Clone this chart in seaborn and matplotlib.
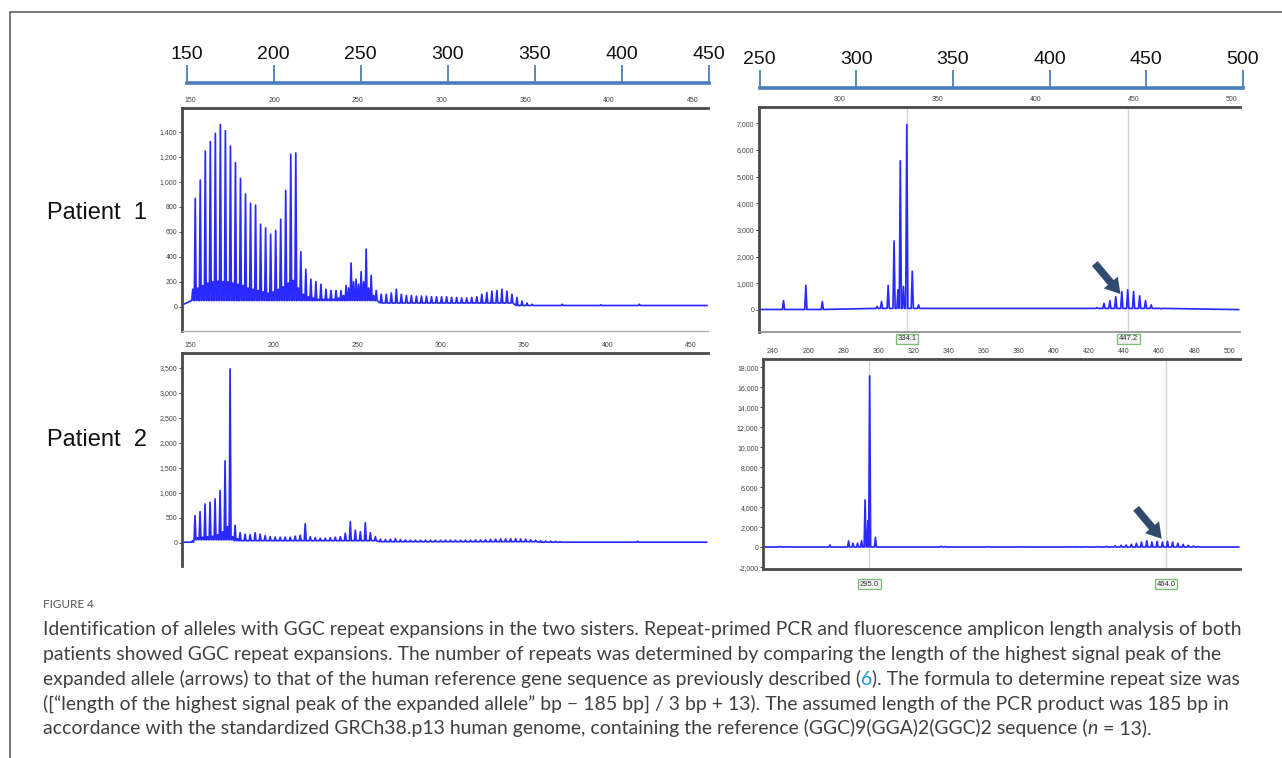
import numpy as np
import pandas as pd
import seaborn as sns
import matplotlib
matplotlib.use('Agg')
import matplotlib.pyplot as plt
from matplotlib.lines import Line2D
from matplotlib.ticker import FuncFormatter
import matplotlib.transforms as mtransforms

# ---------------- data ----------------
# Patient 1, 150-450 bp window: repeat peaks and the small peaks in between
p1_full_pos = [153, 156, 159, 162, 165, 168, 171, 174, 177, 180, 183, 186, 189, 192, 195,
               198, 201, 204, 207, 210, 213, 216, 219, 222, 225, 228, 231, 234, 237, 240,
               243, 246, 249, 252, 255, 258, 261, 264, 267, 270, 273, 276, 279, 282, 285,
               288, 291, 294, 297, 300, 303, 306, 309, 312, 315, 318, 321, 324, 327, 330,
               333, 336, 339, 342, 345, 348, 351, 354, 372, 395, 418]
p1_full_hgt = [867, 1013, 1245, 1320, 1387, 1459, 1408, 1285, 1152, 1027, 901, 827, 813, 660, 630,
               580, 610, 700, 930, 1220, 1230, 440, 300, 220, 200, 180, 140, 130, 130, 130,
               170, 350, 220, 280, 460, 250, 130, 100, 100, 110, 140, 100, 90, 90, 85,
               85, 85, 80, 80, 80, 80, 75, 75, 70, 70, 75, 80, 100, 115, 125,
               130, 140, 125, 100, 75, 45, 30, 20, 20, 15, 20]
p1_full_minor_pos = [151.5, 154.5, 157.5, 160.5, 163.5, 166.5, 169.5, 172.5, 175.5, 178.5,
                     181.5, 184.5, 187.5, 190.5, 193.5, 196.5, 199.5, 202.5, 205.5, 208.5,
                     211.5, 214.5, 217.5, 220.5, 223.5, 226.5, 229.5, 232.5, 235.5, 238.5,
                     241.5, 244.5, 247.5, 250.5, 253.5, 256.5, 259.5]
p1_full_minor_hgt = [140, 150, 170, 190, 200, 205, 200, 200, 190, 180,
                     170, 150, 140, 130, 120, 110, 120, 140, 160, 190,
                     210, 150, 100, 80, 70, 60, 60, 60, 60, 70,
                     90, 150, 200, 180, 200, 150, 90]
p1_full_floor_pos = [140, 151, 262, 345]
p1_full_floor_val = [15, 50, 30, 10]

# Patient 1, 250-500 bp window
p1_zoom_pos = [271.2, 282.6, 291.0, 319.0, 321.2, 324.6, 327.6, 329.6, 330.8, 332.4, 334.1,
               336.9, 340.1, 428.0, 431.0, 434.7, 437.7, 440.7, 443.8, 446.8, 449.8, 452.9,
               455.9, 458.8, 461.0, 464.0]
p1_zoom_hgt = [350, 920, 315, 130, 315, 920, 2585, 760, 5590, 880, 6950,
               1450, 190, 60, 90, 250, 350, 500, 690, 760, 690, 530,
               350, 190, 60, 40]
p1_zoom_floor_pos = [250, 318, 342, 425, 465]
p1_zoom_floor_val = [20, 60, 15, 60, 15]
p1_marks = [334.1, 447.2]

# Patient 2, 150-450 bp window
p2_full_pos = [153, 156, 159, 162, 165, 168, 171, 174, 177, 180, 183, 186, 189, 192, 195,
               198, 201, 204, 207, 210, 213, 216, 219, 222, 225, 228, 231, 234, 237, 240,
               243, 246, 249, 252, 255, 258, 261, 264, 267, 270, 273, 276, 279, 282, 285,
               288, 291, 294, 297, 300, 303, 306, 309, 312, 315, 318, 321, 324, 327, 330,
               333, 336, 339, 342, 345, 348, 351, 354, 357, 360, 363, 366, 369, 372, 418]
p2_full_hgt = [542, 622, 776, 810, 877, 1044, 1640, 3480, 350, 200, 170, 160, 200, 170, 140,
               120, 110, 110, 110, 110, 130, 150, 380, 120, 100, 90, 90, 100, 110, 120,
               190, 420, 250, 220, 400, 200, 120, 70, 60, 70, 80, 60, 55, 50, 50,
               50, 50, 50, 50, 50, 50, 50, 50, 50, 50, 50, 55, 55, 60, 65,
               70, 75, 75, 80, 80, 75, 70, 60, 50, 40, 35, 30, 25, 20, 30]
p2_full_minor_pos = [151.5, 154.5, 157.5, 160.5, 163.5, 166.5, 169.5, 172.5, 175.5, 178.5]
p2_full_minor_hgt = [40, 100, 110, 120, 130, 160, 220, 320, 120, 80]
p2_full_floor_pos = [140, 152, 176, 262, 360]
p2_full_floor_val = [10, 60, 40, 20, 10]

# Patient 2, 240-500 bp window
p2_zoom_pos = [244, 247, 250, 272.4, 283.1, 285.6, 288.2, 290.5, 292.5, 294.1, 295.1, 298.4,
               336, 338, 362.5, 383, 409, 413, 418, 425, 430, 435, 438.3, 441.2, 444.2,
               447.1, 450.0, 453.0, 455.9, 458.9, 461.9, 464.8, 467.7, 470.7, 473.7, 476.6,
               479.6, 482.6]
p2_zoom_hgt = [80, 60, 50, 230, 630, 400, 400, 660, 4730, 2670, 17130, 1000,
               100, 80, 60, 60, 60, 60, 70, 80, 100, 150, 200, 230, 300,
               400, 530, 660, 530, 600, 530, 600, 530, 400, 300, 200,
               130, 70]
p2_zoom_floor_pos = [230]
p2_zoom_floor_val = [30]
p2_marks = [295.0, 464.0]

# axis ticks
full_xticks = [150, 200, 250, 300, 350, 400, 450]
p1_zoom_xticks = [300, 350, 400, 450, 500]
p2_zoom_xticks = [240, 260, 280, 300, 320, 340, 360, 380, 400, 420, 440, 460, 480, 500]
p1_full_yticks = [0, 200, 400, 600, 800, 1000, 1200, 1400]
p1_zoom_yticks = [0, 1000, 2000, 3000, 4000, 5000, 6000, 7000]
p2_full_yticks = [0, 500, 1000, 1500, 2000, 2500, 3000, 3500]
p2_zoom_yticks = [-2000, 0, 2000, 4000, 6000, 8000, 10000, 12000, 14000, 16000, 18000]
bar_left_ticks = [150, 200, 250, 300, 350, 400, 450]
bar_right_ticks = [250, 300, 350, 400, 450, 500]

caption_title = "FIGURE 4"
caption_lines = [
    [("Identification of alleles with GGC repeat expansions in the two sisters. Repeat-primed PCR and fluorescence amplicon length analysis of both", {})],
    [("patients showed GGC repeat expansions. The number of repeats was determined by comparing the length of the highest signal peak of the", {})],
    [("expanded allele (arrows) to that of the human reference gene sequence as previously described (", {}),
     ("6", {"color": "#1d9ad6"}),
     ("). The formula to determine repeat size was", {})],
    [("([\u201clength of the highest signal peak of the expanded allele\u201d bp \u2212 185 bp] / 3 bp + 13). The assumed length of the PCR product was 185 bp in", {})],
    [("accordance with the standardized GRCh38.p13 human genome, containing the reference (GGC)9(GGA)2(GGC)2 sequence (", {}),
     ("n", {"style": "italic"}),
     (" = 13).", {})],
]

# ---------------- style ----------------
sns.set_style("white")
plt.rcParams['font.family'] = ['Liberation Sans', 'DejaVu Sans']
W, H = 1282, 758
fig = plt.figure(figsize=(W / 100, H / 100), dpi=100)
fig.patch.set_facecolor('white')

TRACE = '#2a2aff'
SPINE = '#4a4a4a'
BAR = '#4a7ebb'


def px_axes(l, t, r, b):
    return fig.add_axes([l / W, 1 - b / H, (r - l) / W, (b - t) / H])


def build_trace(pos, hgt, floor_pos, floor_val, lo, hi, half=0.55):
    rows = [(lo, floor_val[0])]
    for p, h in sorted(zip(pos, hgt)):
        f = floor_val[max(np.searchsorted(floor_pos, p, side='right') - 1, 0)]
        rows += [(p - half, f), (p, h), (p + half, f)]
    rows.append((hi, floor_val[-1]))
    return pd.DataFrame(rows, columns=['bp', 'rfu'])


def panel(box, xlim, ylim, xticks, yticks, df, bottom=None):
    ax = px_axes(*box)
    sns.lineplot(data=df, x='bp', y='rfu', sort=False, estimator=None,
                 color=TRACE, lw=1.25, ax=ax)
    ax.set_xlim(*xlim)
    ax.set_ylim(*ylim)
    ax.set_xlabel('')
    ax.set_ylabel('')
    ax.xaxis.tick_top()
    ax.set_xticks(xticks)
    ax.set_yticks(yticks)
    ax.yaxis.set_major_formatter(FuncFormatter(lambda v, _: f"{int(v):,}"))
    ax.tick_params(axis='x', length=0, labelsize=5, colors='#444444', pad=3)
    ax.tick_params(axis='y', direction='out', length=2, width=0.7, labelsize=5,
                   colors='#444444', pad=1.5, left=True)
    for s in ['top', 'left']:
        ax.spines[s].set_color(SPINE)
        ax.spines[s].set_linewidth(2)
    ax.spines['right'].set_visible(False)
    if bottom is None:
        ax.spines['bottom'].set_visible(False)
    else:
        ax.spines['bottom'].set_color(bottom[0])
        ax.spines['bottom'].set_linewidth(bottom[1])
    ax.grid(False)
    return ax


def mark_lines(ax, marks, label_offset):
    trans = mtransforms.blended_transform_factory(ax.transData, ax.transAxes)
    for m in marks:
        ax.axvline(m, color='#d4d4d4', lw=1, zorder=0)
        ax.annotate(f"{m:.1f}", xy=(m, 0), xycoords=trans, xytext=(0, label_offset),
                    textcoords='offset points', ha='center', va='center', fontsize=5.5,
                    color='#333333', annotation_clip=False,
                    bbox=dict(boxstyle='square,pad=0.2', fc='#f2f2f2', ec='#78c078', lw=0.9))


def arrow_to(ax, x, y):
    ax.annotate('', xy=(x, y), xytext=(-21, 25), textcoords='offset points',
                arrowprops=dict(arrowstyle='simple,head_width=1.1,head_length=0.9,tail_width=0.45',
                                mutation_scale=12, color='#2f4b70', lw=0))


# Patient 1 - full window
ax1 = panel((182, 108, 708, 331), (145.1, 459.0), (-194, 1590), full_xticks, p1_full_yticks,
            build_trace(p1_full_pos + p1_full_minor_pos, p1_full_hgt + p1_full_minor_hgt,
                        p1_full_floor_pos, p1_full_floor_val, 145.3, 458.5),
            bottom=('#b0b0b0', 1.0))

# Patient 1 - zoom window
ax2 = panel((759, 107.5, 1240, 332), (258.7, 504.1), (-825, 7590), p1_zoom_xticks, p1_zoom_yticks,
            build_trace(p1_zoom_pos, p1_zoom_hgt, p1_zoom_floor_pos, p1_zoom_floor_val, 259, 503.5),
            bottom=('#8a8a8a', 1.2))
mark_lines(ax2, p1_marks, -5)
arrow_to(ax2, 444.0, 520)

# Patient 2 - full window
ax3 = panel((182, 353, 708, 566), (145.2, 460.2), (-467, 3800), full_xticks, p2_full_yticks,
            build_trace(p2_full_pos + p2_full_minor_pos, p2_full_hgt + p2_full_minor_hgt,
                        p2_full_floor_pos, p2_full_floor_val, 145.4, 459.5))

# Patient 2 - zoom window
ax4 = panel((763.3, 359.3, 1240, 569), (234.5, 506.1), (-2170, 18800), p2_zoom_xticks, p2_zoom_yticks,
            build_trace(p2_zoom_pos, p2_zoom_hgt, p2_zoom_floor_pos, p2_zoom_floor_val, 234.7, 505.5),
            bottom=(SPINE, 2))
mark_lines(ax4, p2_marks, -11)
arrow_to(ax4, 462.5, 640)

# scale bars above the panels
def scale_bar(box, ticks):
    ax = px_axes(*box)
    ax.set_xlim(ticks[0], ticks[-1])
    ax.set_ylim(0, 1)
    ax.vlines(ticks, 0, 1, color=BAR, lw=1.3, clip_on=False)
    for s in ['top', 'left', 'right']:
        ax.spines[s].set_visible(False)
    ax.spines['bottom'].set_color(BAR)
    ax.spines['bottom'].set_linewidth(2.6)
    ax.set_facecolor('none')
    ax.set_yticks([])
    ax.xaxis.tick_top()
    ax.set_xticks(ticks)
    ax.tick_params(axis='x', length=0, pad=1.5, labelsize=14, colors='#111111')
    return ax

scale_bar((186.7, 65, 709, 82.5), bar_left_ticks)
scale_bar((759.8, 70, 1242.8, 87.5), bar_right_ticks)

# patient labels
fig.text(96.7 / W, 1 - 213 / H, 'Patient  1', ha='center', va='center', fontsize=17, color='#111111')
fig.text(96.7 / W, 1 - 440 / H, 'Patient  2', ha='center', va='center', fontsize=17, color='#111111')

# frame lines of the figure page
fig.add_artist(Line2D([10 / W, 1], [1 - 12 / H, 1 - 12 / H], color='#555555', lw=1.1))
fig.add_artist(Line2D([10 / W, 10 / W], [0, 1 - 12 / H], color='#555555', lw=1.1))

# caption
cap_family = ['Lato', 'DejaVu Sans']
cap_color = '#404040'
fig.text(43 / W, 1 - 608 / H, caption_title, fontsize=8.5, color='#555555', family=cap_family,
         va='baseline')

size = 12.0
probe = fig.text(43 / W, 1 - 635 / H, caption_lines[0][0][0], fontsize=size, family=cap_family,
                 va='baseline', color=cap_color)
fig.canvas.draw()
renderer = fig.canvas.get_renderer()
size *= 1197 / probe.get_window_extent(renderer).width
probe.remove()

baselines = [635, 660, 685, 710, 734]
for runs, yb in zip(caption_lines, baselines):
    x = 43.0
    for txt, kw in runs:
        opts = dict(fontsize=size, family=cap_family, va='baseline', color=cap_color)
        opts.update(kw)
        t = fig.text(x / W, 1 - yb / H, txt, **opts)
        x += t.get_window_extent(renderer).width

fig.savefig('out.png', dpi=100, facecolor='white')
